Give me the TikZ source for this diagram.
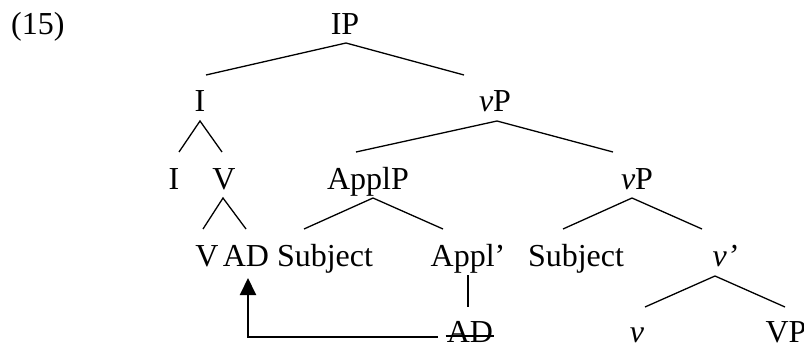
\documentclass[tikz,border=0pt]{standalone}
\usepackage{fontspec}
\setmainfont{Liberation Serif}
\usetikzlibrary{calc,arrows.meta}
\begin{document}
\begin{tikzpicture}[x=1pt,y=-1pt,
  lab/.style={inner sep=0pt,anchor=base,font=\fontsize{32}{38}\selectfont},
  br/.style={line width=1.3pt},
  mv/.style={line width=2pt,-{Triangle[length=17pt,width=16pt]}}]
\useasboundingbox (0,0) rectangle (804,345);
% row 1
\node[lab,anchor=base west] (ex) at (11,35) {(15)};
\node[lab] (IP) at (345,35) {IP};
% row 2
\node[lab] (I2) at (200,112) {I};
\node[lab] (vP2) at (495,112) {\textit{v}P};
% row 3
\node[lab] (I3) at (174,189) {I};
\node[lab] (V3) at (224,189) {V};
\node[lab] (ApplP) at (368,189) {ApplP};
\node[lab] (vP3) at (637,189) {\textit{v}P};
% row 4
\node[lab] (V4) at (207,266) {V};
\node[lab] (AD4) at (246,266) {AD};
\node[lab] (Subj1) at (325,266) {Subject};
\node[lab] (Applb) at (468,266) {Appl’};
\node[lab] (Subj2) at (576,266) {Subject};
\node[lab] (vb) at (725,266) {\textit{v’}};
% row 5
\node[lab] (AD5) at (470,342) {AD};
\node[lab] (v5) at (637,342) {\textit{v}};
\node[lab] (VP) at (786,342) {VP};
% branches
\draw[br] ($(I2.base)+(6,-37)$) -- ($(IP.base)+(1,8)$) -- ($(vP2.base)+(-31,-37)$);
\draw[br] ($(I3.base)+(5,-37)$) -- ($(I2.base)+(0,9)$) -- ($(V3.base)+(-2,-37)$);
\draw[br] ($(ApplP.base)+(-12,-37)$) -- ($(vP2.base)+(2,9)$) -- ($(vP3.base)+(-24,-37)$);
\draw[br] ($(V4.base)+(-4,-37)$) -- ($(V3.base)+(-1,9)$) -- ($(AD4.base)+(0,-37)$);
\draw[br] ($(Subj1.base)+(-21,-37)$) -- ($(ApplP.base)+(5,9)$) -- ($(Applb.base)+(-25,-37)$);
\draw[br] ($(Subj2.base)+(-13,-37)$) -- ($(vP3.base)+(-5,9)$) -- ($(vb.base)+(-23,-37)$);
\draw[br] ($(v5.base)+(8,-35)$) -- ($(vb.base)+(-10,10)$) -- ($(VP.base)+(-1,-35)$);
\draw[br] ($(Applb.base)+(0,9)$) -- ($(AD5.base)+(-2,-35)$);
% strike-through of the moved AD
\draw[line width=1.6pt] ($(AD5.base west)+(-1,-6)$) -- ($(AD5.base east)+(1,-6)$);
% movement arrow
\draw[mv] ($(AD5.base west)+(-9,-5)$) -| ($(AD4.base)+(2,12)$);
\end{tikzpicture}
\end{document}
